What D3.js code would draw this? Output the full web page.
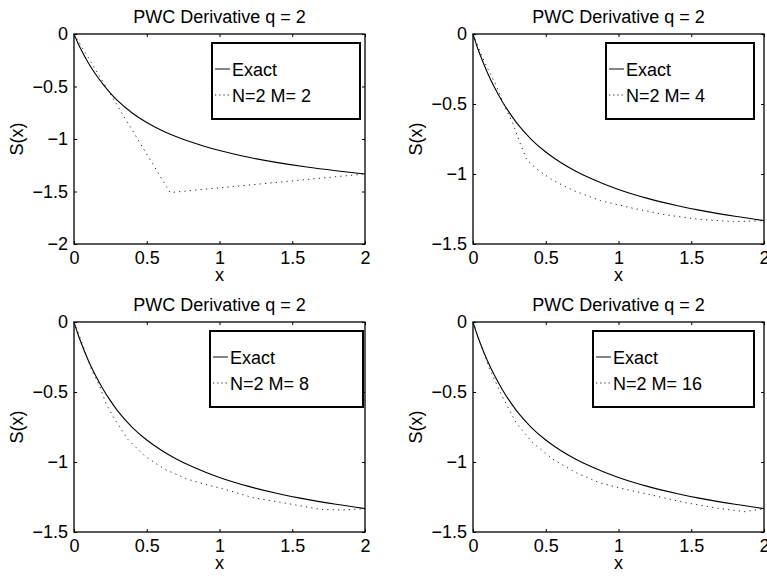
<!DOCTYPE html>
<html>
<head>
<meta charset="utf-8">
<script src="https://cdn.jsdelivr.net/npm/d3@7"></script>
<style>
  body { margin: 0; background: #fff; }
  svg { display: block; font-family: "Liberation Sans", Arial, Helvetica, sans-serif; }
</style>
</head>
<body>
<svg id="chart" width="767" height="576"></svg>
<script>
// values
const titles = ["PWC Derivative q = 2", "PWC Derivative q = 2", "PWC Derivative q = 2", "PWC Derivative q = 2"];
const exactLabel = "Exact";
const approxLabels = ["N=2 M= 2", "N=2 M= 4", "N=2 M= 8", "N=2 M= 16"];
const xTicks = [0, 0.5, 1, 1.5, 2];
const yTicksFirst = [0, -0.5, -1, -1.5, -2];
const yTicksOther = [0, -0.5, -1, -1.5];
const yMins = [-2, -1.5, -1.5, -1.5];

// exact solution S(x)
const xExact = [0, 0.025, 0.05, 0.1, 0.15, 0.2, 0.25, 0.3, 0.4, 0.5, 0.6, 0.7, 0.8, 0.9, 1.0,
                1.2, 1.4, 1.6, 1.8, 2.0];
const sExact = [0, -0.08, -0.152, -0.278, -0.386, -0.48, -0.562, -0.635, -0.752, -0.843, -0.916, -0.976, -1.027, -1.071, -1.11,
                -1.174, -1.225, -1.267, -1.302, -1.333];

// approximations, N=2
const xM2 = [0, 0.66, 2];
const sM2 = [0, -1.51, -1.333];

const xM4 = [0, 0.053, 0.088, 0.158, 0.215, 0.274, 0.32, 0.37, 0.435, 0.55, 0.69, 0.875, 1.1, 1.33, 1.56, 1.79, 2];
const sM4 = [0, -0.137, -0.22, -0.364, -0.51, -0.64, -0.77, -0.9, -0.962, -1.046, -1.118, -1.19, -1.245, -1.293, -1.324, -1.34, -1.333];

const xM8 = [0, 0.06, 0.119, 0.176, 0.222, 0.28, 0.37, 0.486, 0.623, 0.783, 0.944, 1.02, 1.23, 1.46, 1.69, 1.85, 2];
const sM8 = [0, -0.16, -0.338, -0.457, -0.588, -0.695, -0.838, -0.957, -1.052, -1.124, -1.171, -1.19, -1.255, -1.295, -1.338, -1.343, -1.333];

const xM16 = [0, 0.05, 0.112, 0.2, 0.296, 0.41, 0.548, 0.708, 0.868, 1.02, 1.227, 1.456, 1.685, 1.87, 2];
const sM16 = [0, -0.15, -0.33, -0.53, -0.719, -0.862, -0.98, -1.076, -1.148, -1.188, -1.236, -1.29, -1.331, -1.355, -1.333];

// layout
const plotW = 291, plotH = 210;
const origins = [{x: 74, y: 34}, {x: 473, y: 34}, {x: 74, y: 322}, {x: 473, y: 322}];
// legend boxes relative to each axes origin
const legendBoxes = [
  {x: 138, y: 9, w: 148, h: 76},
  {x: 133, y: 9, w: 148, h: 76},
  {x: 136, y: 9, w: 153, h: 76},
  {x: 120, y: 9, w: 161, h: 76}
];

const approxX = [xM2, xM4, xM8, xM16];
const approxS = [sM2, sM4, sM8, sM16];
const zip = (xs, ys) => xs.map((x, i) => ({x, s: ys[i]}));
const exactPts = zip(xExact, sExact);

const svg = d3.select('#chart');
const fmt = d3.format('~g');

origins.forEach((o, i) => {
  const g = svg.append('g').attr('transform', `translate(${o.x},${o.y})`);

  const xScale = d3.scaleLinear().domain([0, 2]).range([0, plotW]);
  const yScale = d3.scaleLinear().domain([yMins[i], 0]).range([plotH, 0]);
  const yTicks = i === 0 ? yTicksFirst : yTicksOther;

  // axes with inward ticks on all sides
  const bottom = g.append('g').attr('transform', `translate(0,${plotH})`)
    .call(d3.axisBottom(xScale).tickValues(xTicks).tickFormat(fmt).tickSizeInner(-3).tickSizeOuter(0).tickPadding(7));
  g.append('g')
    .call(d3.axisLeft(yScale).tickValues(yTicks).tickFormat(fmt).tickSizeInner(-3).tickSizeOuter(0).tickPadding(6));
  g.append('g')
    .call(d3.axisTop(xScale).tickValues(xTicks).tickFormat('').tickSizeInner(-3).tickSizeOuter(0));
  g.append('g').attr('transform', `translate(${plotW},0)`)
    .call(d3.axisRight(yScale).tickValues(yTicks).tickFormat('').tickSizeInner(-3).tickSizeOuter(0));

  g.selectAll('.domain').remove();
  g.selectAll('.tick line').attr('stroke', '#000');
  g.selectAll('.tick text')
    .attr('fill', '#000')
    .style('font-size', '18px')
    .style('font-family', '"Liberation Sans", Arial, sans-serif');
  bottom.selectAll('.tick text').attr('dy', '0.71em');

  // curves
  const line = d3.line().x(d => xScale(d.x)).y(d => yScale(d.s));

  g.append('path')
    .datum(exactPts)
    .attr('d', line.curve(d3.curveMonotoneX))
    .attr('fill', 'none')
    .attr('stroke', '#000')
    .attr('stroke-width', 1.1);

  g.append('path')
    .datum(zip(approxX[i], approxS[i]))
    .attr('d', line.curve(d3.curveLinear))
    .attr('fill', 'none')
    .attr('stroke', '#222')
    .attr('stroke-width', 1)
    .attr('stroke-dasharray', '1.2,4.2');

  // box
  g.append('rect')
    .attr('x', 0).attr('y', 0)
    .attr('width', plotW).attr('height', plotH)
    .attr('fill', 'none')
    .attr('stroke', '#000')
    .attr('stroke-width', 1.3);

  // title and labels
  g.append('text')
    .attr('x', plotW / 2).attr('y', -11)
    .attr('text-anchor', 'middle')
    .style('font-size', '18px')
    .text(titles[i]);

  g.append('text')
    .attr('x', plotW / 2).attr('y', plotH + 37)
    .attr('text-anchor', 'middle')
    .style('font-size', '18px')
    .text('x');

  g.append('text')
    .attr('transform', `translate(-51,${plotH / 2}) rotate(-90)`)
    .attr('text-anchor', 'middle')
    .style('font-size', '18px')
    .text('S(x)');

  // legend
  const lb = legendBoxes[i];
  const lg = g.append('g').attr('transform', `translate(${lb.x},${lb.y})`);
  lg.append('rect')
    .attr('width', lb.w).attr('height', lb.h)
    .attr('fill', '#fff')
    .attr('stroke', '#000')
    .attr('stroke-width', 2);

  const entries = [
    {label: exactLabel, dash: null, cy: 26},
    {label: approxLabels[i], dash: '1.2,3', cy: 52}
  ];
  entries.forEach(e => {
    lg.append('line')
      .attr('x1', 3).attr('x2', 18)
      .attr('y1', e.cy).attr('y2', e.cy)
      .attr('stroke', '#222')
      .attr('stroke-width', 1.1)
      .attr('stroke-dasharray', e.dash);
    lg.append('text')
      .attr('x', 20).attr('y', e.cy + 6.5)
      .style('font-size', '18px')
      .text(e.label);
  });
});
</script>
</body>
</html>
